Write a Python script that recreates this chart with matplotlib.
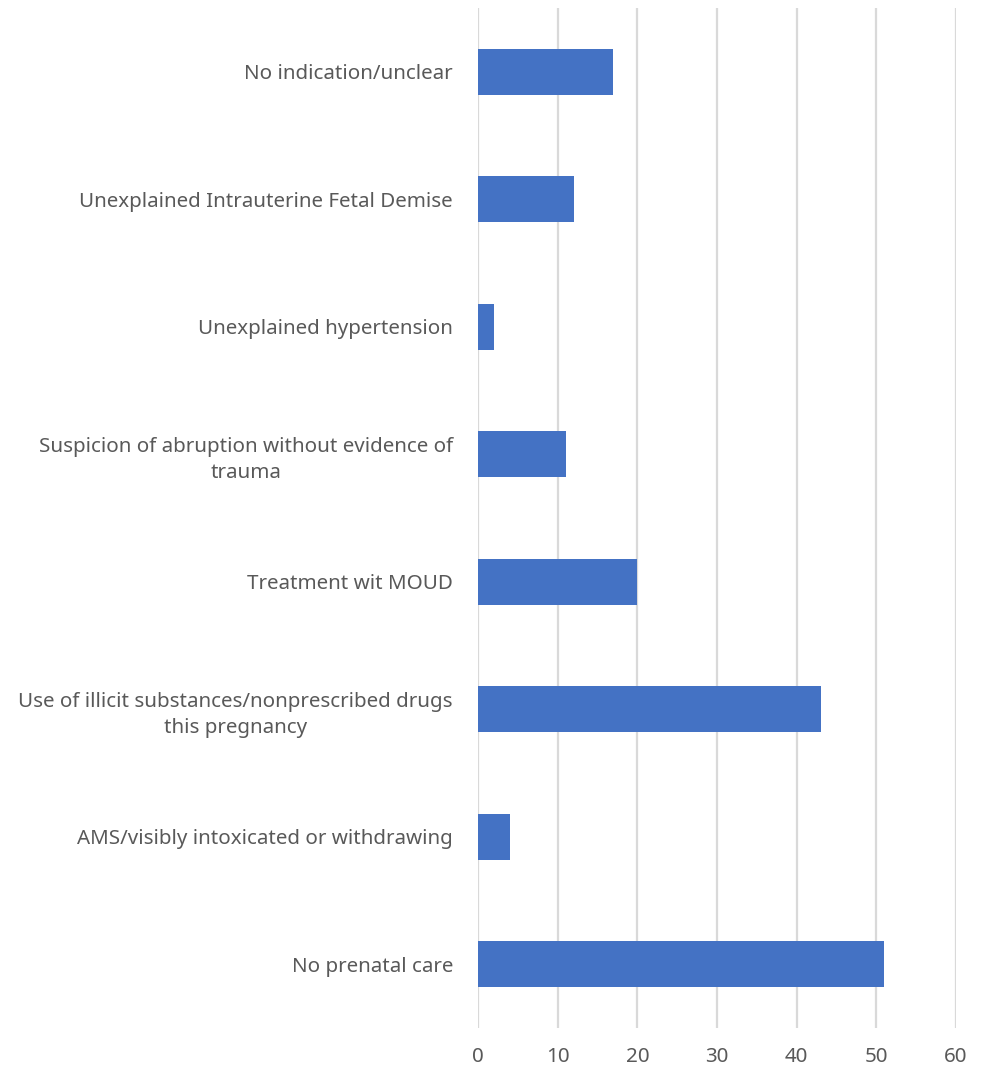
import numpy as np
import matplotlib.pyplot as plt

# reasons for testing, bottom to top
reasons = [
    "No prenatal care",
    "AMS/visibly intoxicated or withdrawing",
    "Use of illicit substances/nonprescribed drugs\nthis pregnancy",
    "Treatment wit MOUD",
    "Suspicion of abruption without evidence of\ntrauma",
    "Unexplained hypertension",
    "Unexplained Intrauterine Fetal Demise",
    "No indication/unclear",
]
counts = [51, 4, 43, 20, 11, 2, 12, 17]
xticks = [0, 10, 20, 30, 40, 50, 60]

plt.rcParams['font.family'] = ['Noto Sans', 'DejaVu Sans']

fig = plt.figure(figsize=(9.89, 10.68), dpi=100)
ax = fig.add_axes([478 / 989, 1 - 1028 / 1068, (956 - 478) / 989, 1020 / 1068])

y = np.arange(len(reasons))
ax.barh(y, counts, height=0.36, color="#4472C4", zorder=3)

ax.set_xlim(0, 60)
ax.set_ylim(-0.5, len(reasons) - 0.5)
ax.set_xticks(xticks)
ax.set_yticks(y)
ax.set_yticklabels(reasons, ha="right", multialignment="center", linespacing=1.4)
ax.tick_params(axis="both", length=0, labelsize=14.8, labelcolor="#595959")
ax.tick_params(axis="y", pad=18)
ax.tick_params(axis="x", pad=14)
ax.grid(axis="x", color="#D9D9D9", linewidth=1.6, zorder=0)
for s in ax.spines.values():
    s.set_visible(False)

fig.savefig("out.png", dpi=100)
